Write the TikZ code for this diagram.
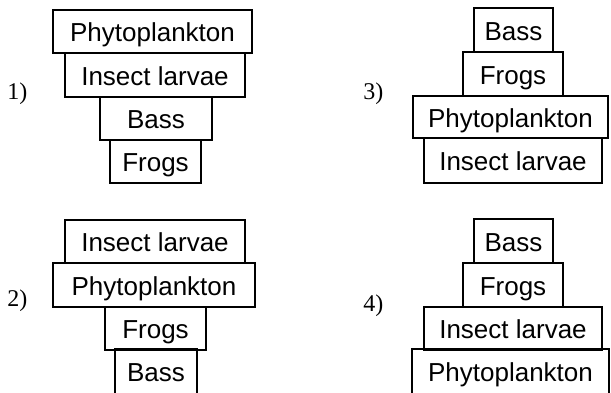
\documentclass[tikz,border=0pt]{standalone}
\usepackage{fontspec}
\setmainfont{Liberation Serif}
\newfontfamily\boxfont{Liberation Sans}
\tikzset{
  tier/.style={draw, line width=1.5pt, rectangle, inner sep=0pt,
    font=\boxfont\fontsize{19.5}{23}\selectfont, text height=15.6pt, text depth=0pt},
  opentier/.style={tier, draw=none},
  tierline/.style={line width=1.5pt},
  qlabel/.style={anchor=base west, inner sep=0pt, font=\fontsize{18}{20}\selectfont}
}
\newcommand\tbox[7][tier]{\node[#1, minimum width={(#5-#3)*0.75pt}, minimum height={(#6-#4)*0.75pt}] (#2) at ({(#3+#5)/2},{(#4+#6)/2}) {#7};}
\begin{document}
\begin{tikzpicture}[x=0.75pt,y=-0.75pt]
\useasboundingbox (0,0) rectangle (611,393);
\clip (0,0) rectangle (611,393);
% 1)
\node[qlabel] (l1) at (7,99) {1)};
\tbox{a1}{53}{10}{252}{53}{Phytoplankton}
\tbox{a2}{65}{53}{245}{97}{Insect larvae}
\tbox{a3}{100}{97}{212}{140}{Bass}
\tbox{a4}{110}{140}{201}{183}{Frogs}
% 3)
\node[qlabel] (l3) at (363,99) {3)};
\tbox{c1}{474}{8}{553}{52}{Bass}
\tbox{c2}{463}{52}{563}{96}{Frogs}
\tbox{c3}{413}{96}{608}{138}{Phytoplankton}
\tbox{c4}{424}{138}{602}{183}{Insect larvae}
% 2)
\node[qlabel] (l2) at (7,306) {2)};
\tbox{b1}{65}{220}{245}{263}{Insect larvae}
\tbox{b2}{53}{263}{255}{307}{Phytoplankton}
\tbox{b3}{105}{307}{206}{350}{Frogs}
\tbox[opentier]{b4}{116}{350}{196}{393}{Bass}
\draw[tierline] ([yshift=-10pt]b4.south west) -- (b4.north west) -- (b4.north east) -- ([yshift=-10pt]b4.south east);
% 4)
\node[qlabel] (l4) at (363,311) {4)};
\tbox{d1}{474}{219}{553}{263}{Bass}
\tbox{d2}{463}{263}{563}{307}{Frogs}
\tbox{d3}{424}{307}{602}{350}{Insect larvae}
\tbox[opentier]{d4}{413}{350}{608}{393}{Phytoplankton}
\draw[tierline] ([yshift=-10pt]d4.south west) -- (d4.north west) -- (d4.north east) -- ([yshift=-10pt]d4.south east);
\end{tikzpicture}
\end{document}
